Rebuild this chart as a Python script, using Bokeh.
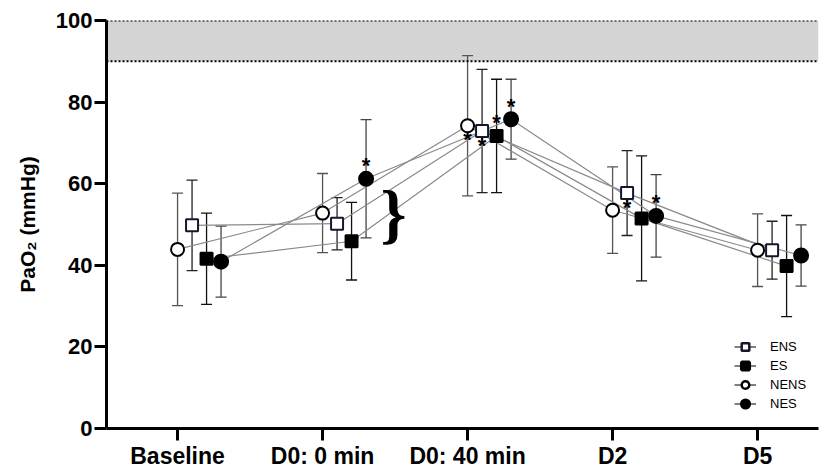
from bokeh.plotting import figure
from bokeh.models import (ColumnDataSource, Range1d, FixedTicker, Whisker, TeeHead,
                          BoxAnnotation, Span, Legend, LegendItem)
from bokeh.core.properties import value
from bokeh.embed import file_html
from bokeh.resources import INLINE

# Time points
categories = ["Baseline", "D0: 0 min", "D0: 40 min", "D2", "D5"]

# PaO2 (mmHg): group means and standard deviations
ens_mean = [49.8, 50.2, 72.9, 57.7, 43.7]
ens_sd = [11.1, 6.4, 15.1, 10.4, 7.1]
es_mean = [41.6, 45.9, 71.7, 51.5, 39.8]
es_sd = [11.2, 9.5, 13.9, 15.3, 12.4]
nens_mean = [43.9, 52.8, 74.2, 53.5, 43.7]
nens_sd = [13.8, 9.7, 17.2, 10.6, 8.9]
nes_mean = [40.9, 61.2, 75.8, 52.1, 42.4]
nes_sd = [8.7, 14.5, 9.8, 10.1, 7.5]

# Normal reference range
normal_low, normal_high = 90, 100

# Significant differences (group, time index, where the asterisk sits)
sig_group = ["NES", "NENS", "ENS", "ES", "NES", "ENS", "NES"]
sig_index = [1, 2, 2, 2, 2, 3, 3]
sig_side = ["above", "below", "below", "above", "above", "below", "above"]

FONT = "Liberation Sans"
NAN = float("nan")

groups = {
    "ENS": dict(mean=ens_mean, sd=ens_sd, shift=0.1, marker="square",
                fill="white", line="#16162e", size=12, bar="#222222"),
    "ES": dict(mean=es_mean, sd=es_sd, shift=0.2, marker="square",
               fill="black", line="black", size=12, bar="#111111"),
    "NENS": dict(mean=nens_mean, sd=nens_sd, shift=0.0, marker="circle",
                 fill="white", line="black", size=13, bar="#555555"),
    "NES": dict(mean=nes_mean, sd=nes_sd, shift=0.3, marker="circle",
                fill="black", line="black", size=14, bar="#444444"),
}

p = figure(width=820, height=471, output_backend="svg", toolbar_location=None,
           x_range=Range1d(-0.49, 4.42), y_range=Range1d(0, 100),
           min_border_left=106, min_border_right=2, min_border_top=20,
           min_border_bottom=41)
p.outline_line_color = None
p.grid.visible = False
p.background_fill_color = "white"

# Normal range band with dotted limits
p.add_layout(BoxAnnotation(bottom=normal_low, top=normal_high,
                           fill_color="#d4d4d4", fill_alpha=1.0, line_color=None,
                           level="underlay"))
for lim in (normal_low, normal_high):
    p.add_layout(Span(location=lim, dimension="width", line_color="black",
                      line_width=2, line_dash="2 2"))

positions = list(range(len(categories)))
sources = {}
for name, g in groups.items():
    xs = [i + g["shift"] for i in positions]
    src = ColumnDataSource(dict(
        x=xs, y=g["mean"],
        upper=[m + s for m, s in zip(g["mean"], g["sd"])],
        lower=[m - s for m, s in zip(g["mean"], g["sd"])],
    ))
    sources[name] = src
    p.line("x", "y", source=src, line_color="#8a8a8a", line_width=1.2)

for name, g in groups.items():
    src = sources[name]
    w = Whisker(base="x", upper="upper", lower="lower", source=src,
                line_color=g["bar"], line_width=1.3,
                upper_head=TeeHead(size=11, line_color=g["bar"], line_width=1.3),
                lower_head=TeeHead(size=11, line_color=g["bar"], line_width=1.3))
    p.add_layout(w)

for name, g in groups.items():
    p.scatter("x", "y", source=sources[name], marker=g["marker"],
              size=g["size"], fill_color=g["fill"], line_color=g["line"],
              line_width=2)

# Asterisks for significant differences
star_x, star_y, star_off = [], [], []
for grp, idx, side in zip(sig_group, sig_index, sig_side):
    g = groups[grp]
    star_x.append(idx + g["shift"])
    star_y.append(g["mean"][idx])
    star_off.append(-13.0 if side == "above" else 14.0)
p.text(x=star_x, y=star_y, text=["*"] * len(star_x), y_offset=star_off,
       text_font=value(FONT), text_font_style="bold", text_font_size="22px",
       text_align="center", text_baseline="alphabetic", text_color="black")

# Brace grouping the D0: 0 min points
p.text(x=[1.49], y=[52.7], text=["}"], text_font=value("Liberation Serif"),
       text_font_style="bold", text_font_size="66px", text_align="center",
       text_baseline="middle", text_color="black")

# Legend (line + marker)
items = []
for name, g in groups.items():
    key_line = p.line([NAN], [NAN], line_color="black", line_width=1)
    filled = g["fill"] == "black"
    key_mark = p.scatter([NAN], [NAN], marker=g["marker"], size=8,
                         fill_color=g["fill"], line_color=g["line"],
                         line_width=3.5 if filled else 2.5)
    items.append(LegendItem(label=name, renderers=[key_line, key_mark]))
legend = Legend(items=items, location=(628, 15), glyph_width=22, glyph_height=19,
                label_height=19, spacing=0, padding=0, margin=0, label_standoff=14,
                label_text_font=FONT, label_text_font_size="13px",
                label_text_color="black",
                border_line_color=None, background_fill_alpha=0)
p.add_layout(legend)

# Axes
p.xaxis.ticker = FixedTicker(ticks=positions)
p.xaxis.major_label_overrides = {i: c for i, c in enumerate(categories)}
p.yaxis.ticker = FixedTicker(ticks=[0, 20, 40, 60, 80, 100])
p.yaxis.axis_label = "PaO₂ (mmHg)"
p.yaxis.axis_label_text_font = FONT
p.yaxis.axis_label_text_font_style = "bold"
p.yaxis.axis_label_text_font_size = "21px"
p.yaxis.axis_label_text_color = "black"
p.yaxis.axis_label_standoff = 14
for ax in (p.xaxis, p.yaxis):
    ax.axis_line_width = 3
    ax.axis_line_color = "black"
    ax.major_tick_line_width = 3
    ax.major_tick_line_color = "black"
    ax.major_tick_out = 12
    ax.major_tick_in = 0
    ax.minor_tick_line_color = None
    ax.major_label_text_font = FONT
    ax.major_label_text_font_style = "bold"
    ax.major_label_text_color = "black"
p.xaxis.major_label_text_font_size = "23px"
p.yaxis.major_label_text_font_size = "22px"
p.xaxis.major_label_standoff = 2
p.yaxis.major_label_standoff = 2

open("out.html", "w").write(file_html(p, INLINE))
